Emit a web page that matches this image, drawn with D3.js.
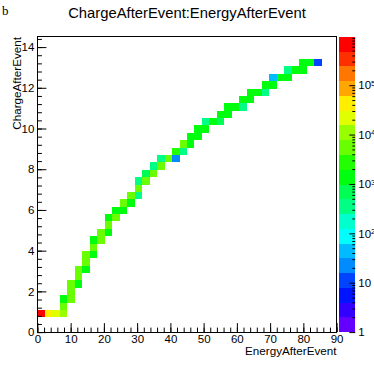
<!DOCTYPE html>
<html>
<head>
<meta charset="utf-8">
<script src="https://cdn.jsdelivr.net/npm/d3@7"></script>
<style>
  body { margin: 0; background: #fff; }
  svg { display: block; font-family: "Liberation Sans", Arial, sans-serif; }
  .tick line { stroke: #000; }
  .tick text { fill: #000; }
</style>
</head>
<body>
<svg id="chart" width="374" height="369"></svg>
<script>
// filled cells: bin centres (EnergyAfterEvent, ChargeAfterEvent) and entries
const energy = [1.13, 3.38, 5.63, 7.88, 7.88, 7.88, 10.13, 10.13, 10.13, 12.38, 12.38, 12.38,
  14.63, 14.63, 14.63, 16.88, 16.88, 16.88, 19.13, 19.13, 21.38, 21.38, 21.38, 23.63, 23.63,
  25.88, 25.88, 28.13, 28.13, 30.38, 30.38, 30.38, 32.63, 32.63, 34.88, 34.88, 37.13, 37.13,
  39.38, 41.63, 41.63, 43.88, 43.88, 46.13, 46.13, 48.38, 48.38, 50.63, 50.63, 52.88, 55.13,
  55.13, 57.38, 57.38, 59.63, 61.88, 61.88, 64.13, 64.13, 66.38, 68.63, 68.63, 70.88, 70.88,
  73.13, 75.38, 75.38, 77.63, 79.88, 79.88, 82.13, 84.38];
const charge = [0.91, 0.91, 0.91, 0.91, 1.27, 1.63, 1.63, 1.99, 2.36, 2.36, 2.72, 3.08, 3.08,
  3.44, 3.81, 3.81, 4.17, 4.53, 4.53, 4.89, 4.89, 5.26, 5.62, 5.62, 5.98, 5.98, 6.34, 6.34,
  6.71, 6.71, 7.07, 7.43, 7.43, 7.79, 7.79, 8.16, 8.16, 8.52, 8.52, 8.52, 8.88, 8.88, 9.24,
  9.24, 9.61, 9.61, 9.97, 9.97, 10.33, 10.33, 10.33, 10.69, 10.69, 11.06, 11.06, 11.06, 11.42,
  11.42, 11.78, 11.78, 11.78, 12.14, 12.14, 12.51, 12.51, 12.51, 12.87, 12.87, 12.87, 13.23,
  13.23, 13.23];
const counts = [950000, 52000, 24000, 11000, 6800, 1700, 6200, 5900, 6100, 1450, 6000, 5700,
  1600, 6100, 5600, 1500, 5900, 1400, 6000, 5600, 1550, 5800, 1480, 5300, 1600, 1520, 5500,
  1450, 5200, 330, 5100, 260, 5000, 800, 5000, 450, 4900, 420, 4700, 26, 2600, 400, 4500,
  1500, 1560, 1400, 1480, 1530, 380, 1500, 700, 1470, 1520, 1490, 1550, 400, 1510, 1460,
  1500, 1540, 420, 1480, 1500, 55, 1520, 1490, 410, 1500, 1530, 1470, 1510, 12];

const xTicks = [0, 10, 20, 30, 40, 50, 60, 70, 80, 90];
const yTicks = [0, 2, 4, 6, 8, 10, 12, 14];
const zTicks = [1, 10, 100, 1000, 10000, 100000];

const svg = d3.select('#chart');
const frame = { left: 37.4, right: 336.6, top: 36.9, bottom: 332.1 };
const X_MAX = 90, Y_MAX = 14.5, NBINS = 40, NLEVELS = 20;
const dx = X_MAX / NBINS, dy = Y_MAX / NBINS;

const x = d3.scaleLinear().domain([0, X_MAX]).range([frame.left, frame.right]);
const y = d3.scaleLinear().domain([0, Y_MAX]).range([frame.bottom, frame.top]);

// ROOT pretty palette: 49 HLS hues violet -> red, last slot is kRed
const palette = d3.range(49).map(i => d3.hsl(280 - (i + 1) * 5.6, 1, 0.5).formatHex()).concat('#ff0000');
const zmax = d3.max(counts);
const lz = Math.log10(zmax);
const z = d3.scaleLog().domain([1, zmax]).range([frame.bottom, frame.top]);
const levelColor = k => palette[Math.floor((k + 0.99) * palette.length / NLEVELS)];
const levelOf = v => Math.min(NLEVELS - 1, Math.floor(Math.log10(v) / lz * NLEVELS));

// ============== cells ==============
const cells = counts.map((c, i) => ({
  e0: Math.floor(energy[i] / dx) * dx,
  q0: Math.floor(charge[i] / dy) * dy,
  c
}));
svg.append('g').attr('shape-rendering', 'crispEdges')
  .selectAll('rect').data(cells).join('rect')
  .attr('x', d => x(d.e0))
  .attr('y', d => y(d.q0 + dy))
  .attr('width', d => x(d.e0 + dx) - x(d.e0))
  .attr('height', d => y(d.q0) - y(d.q0 + dy))
  .attr('fill', d => levelColor(levelOf(d.c)));

// ============== frame + axes ==============
svg.append('rect')
  .attr('x', 37.5).attr('y', 36.5).attr('width', 299).attr('height', 296)
  .attr('fill', 'none').attr('stroke', '#000');

const tidy = g => g.attr('font-family', null).attr('font-size', 11.5).call(g => g.select('.domain').remove());

svg.append('g').attr('transform', `translate(0,${frame.bottom})`)
  .call(d3.axisBottom(x).tickValues(d3.range(0, X_MAX + 0.1, 2)).tickSize(-4.5).tickFormat(''))
  .call(tidy);
svg.append('g').attr('transform', `translate(0,${frame.bottom})`)
  .call(d3.axisBottom(x).tickValues(xTicks).tickSize(-9).tickPadding(3))
  .call(tidy);

svg.append('g').attr('transform', `translate(${frame.left},0)`)
  .call(d3.axisLeft(y).tickValues(d3.range(0, Y_MAX, 0.4)).tickSize(-4.5).tickFormat(''))
  .call(tidy);
svg.append('g').attr('transform', `translate(${frame.left},0)`)
  .call(d3.axisLeft(y).tickValues(yTicks).tickSize(-9).tickPadding(3))
  .call(tidy);

// ============== palette ==============
const palX = 338.5, palW = 16.8;
const edge = k => z(Math.pow(10, k * lz / NLEVELS));
svg.append('g').attr('shape-rendering', 'crispEdges')
  .selectAll('rect').data(d3.range(NLEVELS)).join('rect')
  .attr('x', palX).attr('width', palW)
  .attr('y', k => edge(k + 1))
  .attr('height', k => edge(k) - edge(k + 1))
  .attr('fill', levelColor);

const zMinor = [];
zTicks.forEach(t => d3.range(2, 10).forEach(m => { if (t * m <= zmax) zMinor.push(t * m); }));
svg.append('g').attr('transform', `translate(${palX + palW},0)`)
  .call(d3.axisRight(z).tickValues(zMinor).tickSize(-3).tickFormat(''))
  .call(tidy);
svg.append('g').attr('transform', `translate(${palX + palW},0)`)
  .call(d3.axisRight(z).tickValues(zTicks).tickSize(-6).tickPadding(3))
  .call(tidy)
  .call(g => g.selectAll('.tick text').each(function (v) {
    const n = Math.round(Math.log10(v));
    const t = d3.select(this).text(n === 0 ? '1' : '10');
    if (n > 1) t.append('tspan').attr('dy', '-0.45em').attr('font-size', '0.7em').text(n);
  }));

// ============== titles ==============
svg.append('text').attr('x', 187).attr('y', 18).attr('text-anchor', 'middle')
  .attr('font-size', 14.8).text('ChargeAfterEvent:EnergyAfterEvent');
svg.append('text').attr('x', 2).attr('y', 15).attr('font-family', '"Liberation Serif", serif')
  .attr('font-size', 13).text('b');
svg.append('text').attr('x', frame.right).attr('y', 355).attr('text-anchor', 'end')
  .attr('font-size', 11.7).text('EnergyAfterEvent');
svg.append('text').attr('transform', `translate(20.5,${frame.top}) rotate(-90)`)
  .attr('text-anchor', 'end').attr('font-size', 11.7).text('ChargeAfterEvent');
</script>
</body>
</html>
